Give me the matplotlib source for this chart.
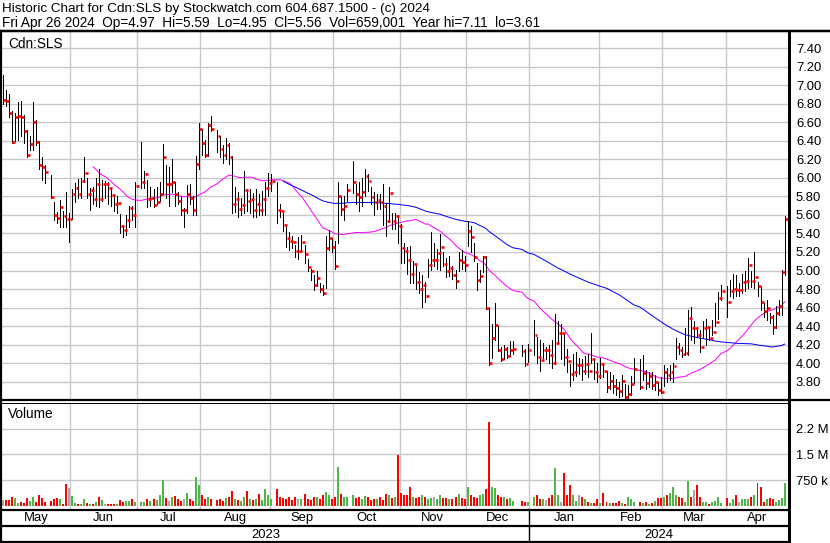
import numpy as np
import pandas as pd
import matplotlib
matplotlib.use("Agg")
import matplotlib.pyplot as plt
from matplotlib.lines import Line2D

# ---------------- data ----------------
ticker = "Cdn:SLS"
header1 = "Historic Chart for Cdn:SLS by Stockwatch.com 604.687.1500 - (c) 2024"
header2 = "Fri Apr 26 2024  Op=4.97  Hi=5.59  Lo=4.95  Cl=5.56  Vol=659,001  Year hi=7.11  lo=3.61"
start_date = "2023-05-01"
end_date = "2024-04-26"
holidays = ["2023-05-22", "2023-07-03", "2023-08-07", "2023-09-04", "2023-10-09",
            "2023-12-25", "2023-12-26", "2024-01-01", "2024-02-19", "2024-03-29"]

close_may = [6.84, 6.83, 6.70, 6.39, 6.66, 6.67, 6.66, 6.51, 6.25, 6.37, 6.60, 6.39, 6.14, 6.12, 6.06, 5.79, 5.60, 5.57, 5.69, 5.59, 5.56, 5.56]
high_may = [7.11, 6.95, 6.90, 6.72, 6.70, 6.82, 6.83, 6.68, 6.52, 6.45, 6.82, 6.62, 6.40, 6.22, 6.14, 6.03, 5.74, 5.63, 5.76, 5.64, 5.85, 5.62]
low_may = [6.80, 6.77, 6.66, 6.38, 6.40, 6.41, 6.45, 6.38, 6.22, 6.30, 6.30, 6.35, 6.10, 5.98, 5.94, 5.78, 5.54, 5.51, 5.47, 5.47, 5.47, 5.31]

close_jun = [5.83, 5.89, 5.82, 5.97, 6.05, 5.83, 5.87, 5.77, 5.93, 5.77, 5.93, 5.93, 5.89, 5.81, 5.72, 5.73, 5.48, 5.44, 5.54, 5.67, 5.60, 5.91]
high_jun = [5.88, 5.94, 5.99, 6.00, 6.22, 6.00, 5.89, 5.90, 6.00, 6.10, 5.98, 5.97, 5.95, 5.88, 5.80, 5.80, 5.61, 5.49, 5.60, 5.70, 5.70, 5.95]
low_jun = [5.56, 5.74, 5.78, 5.78, 5.95, 5.78, 5.65, 5.72, 5.70, 5.69, 5.75, 5.78, 5.72, 5.70, 5.64, 5.62, 5.40, 5.36, 5.38, 5.47, 5.55, 5.47]

close_jul = [5.95, 6.04, 5.77, 5.78, 5.71, 5.74, 5.83, 6.22, 5.93, 5.93, 5.96, 5.83, 5.75, 5.65, 5.65, 5.82, 5.78, 5.65, 6.15, 6.53]
high_jul = [6.39, 6.07, 5.98, 5.90, 5.88, 5.90, 5.95, 6.37, 6.14, 6.12, 6.20, 5.95, 5.85, 5.80, 5.67, 5.92, 5.93, 5.80, 6.23, 6.59]
low_jul = [5.89, 5.89, 5.69, 5.70, 5.68, 5.72, 5.75, 5.83, 5.78, 5.70, 5.85, 5.70, 5.72, 5.60, 5.47, 5.62, 5.72, 5.60, 5.60, 6.10]

close_aug = [6.38, 6.25, 6.57, 6.53, 6.45, 6.31, 6.25, 6.35, 6.22, 5.72, 5.77, 5.66, 5.71, 5.87, 5.75, 5.77, 5.65, 5.72, 5.65, 5.77, 5.89, 5.94]
high_aug = [6.53, 6.41, 6.59, 6.67, 6.52, 6.45, 6.35, 6.43, 6.38, 6.23, 5.90, 5.85, 5.78, 6.07, 5.88, 5.88, 5.84, 5.88, 5.82, 5.86, 5.95, 6.05]
low_aug = [6.25, 6.22, 6.23, 6.50, 6.28, 6.22, 6.16, 6.20, 6.15, 5.62, 5.63, 5.58, 5.60, 5.62, 5.64, 5.62, 5.58, 5.58, 5.60, 5.60, 5.60, 5.80]

close_sep = [5.97, 5.65, 5.64, 5.49, 5.35, 5.32, 5.31, 5.21, 5.21, 5.31, 5.18, 5.04, 4.99, 4.84, 4.92, 4.80, 4.76, 5.24, 5.35, 5.25]
high_sep = [6.04, 5.95, 5.72, 5.62, 5.47, 5.42, 5.37, 5.28, 5.36, 5.38, 5.28, 5.12, 5.02, 4.95, 4.99, 4.86, 4.84, 5.37, 5.44, 5.35]
low_sep = [5.86, 5.51, 5.58, 5.43, 5.25, 5.22, 5.24, 5.15, 5.12, 5.20, 5.08, 5.00, 4.90, 4.79, 4.83, 4.77, 4.74, 4.81, 5.22, 5.20]

close_oct = [5.05, 5.80, 5.66, 5.70, 5.87, 5.95, 5.83, 5.79, 5.85, 6.02, 5.97, 5.79, 5.74, 5.76, 5.74, 5.70, 5.53, 5.84, 5.53, 5.59, 5.48]
high_oct = [5.32, 5.96, 5.80, 5.80, 5.93, 6.18, 5.93, 5.96, 6.00, 6.09, 6.04, 5.90, 5.85, 5.83, 5.83, 5.93, 5.73, 5.90, 5.62, 5.62, 5.60]
low_oct = [5.02, 5.30, 5.60, 5.55, 5.75, 5.84, 5.72, 5.64, 5.70, 5.80, 5.86, 5.72, 5.60, 5.66, 5.66, 5.49, 5.37, 5.52, 5.45, 5.45, 5.30]

close_nov = [5.24, 5.21, 5.11, 4.96, 5.07, 4.88, 4.80, 4.84, 4.72, 5.06, 5.11, 5.11, 5.19, 5.25, 5.07, 5.00, 5.03, 4.95, 4.89, 5.11, 5.09, 5.06]
high_nov = [5.50, 5.30, 5.25, 5.26, 5.10, 5.05, 4.98, 4.95, 4.88, 5.12, 5.41, 5.30, 5.23, 5.39, 5.20, 5.13, 5.16, 5.05, 5.01, 5.20, 5.22, 5.16]
low_nov = [5.08, 5.08, 4.96, 4.87, 4.87, 4.80, 4.76, 4.61, 4.66, 4.93, 5.01, 5.05, 5.02, 5.01, 5.05, 4.93, 4.94, 4.91, 4.81, 5.00, 5.02, 5.00]

close_dec = [5.43, 5.36, 5.15, 4.90, 4.94, 5.15, 4.60, 4.00, 4.27, 4.41, 4.14, 4.04, 4.15, 4.08, 4.14, 4.15, 4.13, 3.99, 4.14]
high_dec = [5.53, 5.48, 5.30, 5.08, 5.01, 5.16, 5.16, 4.60, 4.42, 4.65, 4.40, 4.18, 4.20, 4.18, 4.24, 4.24, 4.20, 4.15, 4.21]
low_dec = [5.26, 5.20, 5.10, 4.79, 4.88, 4.98, 4.58, 3.98, 4.06, 4.25, 4.13, 4.02, 4.05, 4.06, 4.08, 4.10, 4.08, 3.97, 4.01]

close_jan = [4.30, 4.07, 4.03, 4.14, 4.14, 4.09, 4.00, 4.22, 4.33, 4.33, 4.07, 4.02, 3.88, 3.91, 3.98, 3.98, 3.92, 3.99, 3.92, 4.04, 3.91, 3.86]
high_jan = [4.47, 4.28, 4.25, 4.22, 4.18, 4.20, 4.25, 4.53, 4.45, 4.42, 4.33, 4.15, 3.99, 4.10, 4.12, 4.06, 4.05, 4.08, 4.10, 4.33, 4.05, 4.00]
low_jan = [4.09, 4.00, 3.92, 4.06, 4.05, 4.00, 3.95, 3.99, 4.22, 4.05, 3.98, 3.90, 3.75, 3.82, 3.86, 3.88, 3.82, 3.88, 3.85, 4.00, 3.83, 3.80]

close_feb = [3.99, 3.92, 3.74, 3.81, 3.75, 3.73, 3.70, 3.81, 3.64, 3.67, 3.78, 3.94, 3.74, 3.89, 3.79, 3.86, 3.77, 3.80, 3.71, 3.69]
high_feb = [4.06, 4.00, 3.92, 3.90, 3.87, 3.83, 3.80, 3.87, 3.78, 3.76, 3.86, 4.06, 4.05, 4.09, 3.93, 3.90, 3.90, 3.87, 3.80, 3.85]
low_feb = [3.84, 3.85, 3.69, 3.72, 3.68, 3.66, 3.64, 3.65, 3.61, 3.62, 3.66, 3.79, 3.72, 3.82, 3.72, 3.74, 3.72, 3.71, 3.66, 3.68]

close_mar = [3.90, 3.87, 3.91, 3.97, 4.18, 4.14, 4.10, 4.11, 4.49, 4.38, 4.38, 4.30, 4.18, 4.38, 4.39, 4.27, 4.34, 4.44, 4.70, 4.78]
high_mar = [3.98, 3.95, 3.98, 4.00, 4.27, 4.22, 4.18, 4.38, 4.57, 4.61, 4.45, 4.38, 4.36, 4.45, 4.48, 4.38, 4.47, 4.65, 4.77, 4.84]
low_mar = [3.75, 3.80, 3.82, 3.80, 4.05, 4.10, 4.07, 4.09, 4.09, 4.25, 4.22, 4.28, 4.12, 4.27, 4.20, 4.25, 4.30, 4.40, 4.48, 4.68]

close_apr = [4.66, 4.78, 4.80, 4.79, 4.79, 4.88, 4.89, 5.06, 4.89, 4.93, 4.83, 4.66, 4.56, 4.60, 4.50, 4.39, 4.54, 4.62, 4.98, 5.56]
high_apr = [4.83, 4.90, 4.96, 4.95, 4.86, 4.96, 4.99, 5.13, 5.00, 5.20, 4.88, 4.82, 4.65, 4.68, 4.54, 4.52, 4.62, 4.68, 5.01, 5.59]
low_apr = [4.50, 4.72, 4.70, 4.72, 4.73, 4.76, 4.78, 4.81, 4.82, 4.81, 4.72, 4.57, 4.50, 4.47, 4.43, 4.32, 4.38, 4.52, 4.52, 4.95]

# volume in thousands of shares
vol_may = [165, 165, 165, 253, 214, 88, 117, 88, 234, 136, 253, 117, 312, 234, 117, 136, 185, 234, 195, 60, 633, 526]
vol_jun = [282, 90, 60, 60, 195, 90, 50, 60, 100, 253, 165, 40, 60, 60, 40, 40, 165, 117, 136, 136, 195, 100]
vol_jul = [120, 100, 190, 150, 200, 160, 300, 750, 230, 150, 250, 280, 200, 150, 200, 380, 200, 150, 840, 600]
vol_aug = [300, 200, 260, 200, 180, 200, 150, 220, 250, 420, 200, 180, 150, 250, 430, 200, 180, 200, 350, 180, 490, 300]
vol_sep = [200, 490, 250, 220, 200, 260, 180, 240, 200, 200, 340, 200, 180, 250, 250, 200, 300, 400, 300, 200]
vol_oct = [250, 1130, 350, 260, 260, 300, 220, 260, 200, 280, 240, 180, 200, 200, 260, 180, 340, 300, 220, 250, 1480]
vol_nov = [380, 300, 300, 540, 250, 220, 260, 320, 250, 200, 220, 240, 200, 320, 220, 220, 200, 200, 260, 350, 230, 200]
vol_dec = [560, 300, 250, 220, 320, 350, 480, 2440, 560, 520, 320, 260, 240, 200, 220, 150, 130, 110, 120]
vol_jan = [250, 310, 200, 200, 180, 220, 300, 1100, 300, 117, 960, 310, 600, 310, 136, 310, 263, 185, 117, 90, 90, 185]
vol_feb = [90, 380, 117, 90, 90, 70, 136, 90, 50, 263, 185, 117, 117, 90, 117, 50, 90, 150, 234, 234]
vol_mar = [263, 310, 380, 555, 310, 263, 234, 117, 720, 263, 458, 600, 263, 117, 117, 50, 117, 136, 263, 88]
vol_apr = [234, 88, 185, 310, 117, 185, 185, 185, 263, 310, 650, 555, 117, 185, 215, 185, 117, 165, 215, 659]

# ---------------- assemble ----------------
closes = np.array(close_may + close_jun + close_jul + close_aug + close_sep + close_oct +
                  close_nov + close_dec + close_jan + close_feb + close_mar + close_apr)
highs = np.array(high_may + high_jun + high_jul + high_aug + high_sep + high_oct +
                 high_nov + high_dec + high_jan + high_feb + high_mar + high_apr)
lows = np.array(low_may + low_jun + low_jul + low_aug + low_sep + low_oct +
                low_nov + low_dec + low_jan + low_feb + low_mar + low_apr)
vols = np.array(vol_may + vol_jun + vol_jul + vol_aug + vol_sep + vol_oct +
                vol_nov + vol_dec + vol_jan + vol_feb + vol_mar + vol_apr) * 1000.0

weekdays = pd.bdate_range(start_date, end_date)
slots = np.arange(len(weekdays))
is_trading = ~weekdays.isin(pd.to_datetime(holidays))
x = slots[is_trading]
n = min(len(x), len(closes))
x, closes, highs, lows, vols = x[:n], closes[:n], highs[:n], lows[:n], vols[:n]

ma_short = pd.Series(closes).rolling(30).mean().values
ma_long = pd.Series(closes).rolling(90).mean().values

diff = np.diff(closes, prepend=np.nan)
vcolors = np.where(diff > 1e-9, "#4DB848", np.where(diff < -1e-9, "#FF0000", "#A8A8A8"))

# ---------------- figure ----------------
W, H = 830, 543
P = 0.72  # one pixel in points at dpi 100
plt.rcParams["font.family"] = ["Liberation Sans", "DejaVu Sans"]
fig = plt.figure(figsize=(W / 100, H / 100), dpi=100)
fig.patch.set_facecolor("white")

def fx(px):
    return px / W

def fy(py):
    return 1 - py / H

PX = 3.02
XL = (-0.17, (789 - 2.5) / PX)
LEFT, RIGHT = 2, 789

ax = fig.add_axes([fx(LEFT), fy(400), fx(RIGHT) - fx(LEFT), fy(32) - fy(400)])
axv = fig.add_axes([fx(LEFT), fy(509), fx(RIGHT) - fx(LEFT), fy(403) - fy(509)])

months = pd.period_range(weekdays[0], weekdays[-1], freq="M")
bounds = []
for m in months:
    first = np.where(weekdays.to_period("M") == m)[0][0]
    bounds.append(first - 0.5)
bounds.append(XL[1])
bounds[0] = XL[0]

grid_c = "#C8C8C8"
for a in (ax, axv):
    a.set_xlim(*XL)
    for b in bounds[1:-1]:
        a.axvline(b, color=grid_c, lw=1.4 * P, zorder=0)
    for s in a.spines.values():
        s.set_visible(False)
    a.set_xticks([])
    a.yaxis.tick_right()
    a.tick_params(axis="y", length=0, pad=5, labelsize=9.4)
    a.set_facecolor("white")

# price panel
yt = np.round(np.arange(3.6, 7.41, 0.2), 2)
ax.set_ylim(3.603, 7.573)
for v in yt:
    ax.axhline(v, color=grid_c, lw=1.4 * P, zorder=0)
ax.set_yticks(yt[1:])
ax.set_yticklabels([f"{v:.2f}" for v in yt[1:]])

ax.vlines(x, lows, highs, color="black", lw=1.0 * P, antialiased=False, zorder=3)
ax.hlines(closes, x + 0.2, x + 1.15, color="#FF0000", lw=2.6 * P, antialiased=True,
          capstyle="butt", zorder=4)
ax.plot(x, ma_short, color="#FF00FF", lw=1.0 * P, zorder=2)
ax.plot(x, ma_long, color="#0000FF", lw=1.0 * P, zorder=2)
ax.text(0.008, 0.968, ticker, transform=ax.transAxes, fontsize=9.8, va="center", ha="left")

# volume panel
axv.set_ylim(-0.096e6, 2.997e6)
vt = [750e3, 1.5e6, 2.25e6]
for v in vt:
    axv.axhline(v, color=grid_c, lw=1.4 * P, zorder=0)
axv.set_yticks(vt)
axv.set_yticklabels(["750 k", "1.5 M", "2.2 M"])
axv.bar(x, vols, width=0.66, color=vcolors, align="center", zorder=3, linewidth=0)
axv.text(0.008, 0.9, "Volume", transform=axv.transAxes, fontsize=9.8, va="center", ha="left")

# header
fig.text(fx(2), fy(9), header1, fontsize=9.7, va="center", ha="left")
fig.text(fx(2), fy(23.5), header2, fontsize=9.8, va="center", ha="left")

# month / year axis
axm = fig.add_axes([fx(LEFT), fy(542), fx(RIGHT) - fx(LEFT), fy(510) - fy(542)])
axm.set_xlim(*XL)
axm.set_ylim(0, 32)
axm.axis("off")
names = [m.strftime("%b") for m in months]
for i, nm in enumerate(names):
    axm.text((bounds[i] + bounds[i + 1]) / 2, 24, nm, ha="center", va="center", fontsize=9.4)
years = sorted(set(m.year for m in months))
for yv in years:
    idx = [i for i, m in enumerate(months) if m.year == yv]
    axm.text((bounds[idx[0]] + bounds[idx[-1] + 1]) / 2, 7.5, str(yv), ha="center", va="center", fontsize=9.4)
jan_idx = [i for i, m in enumerate(months) if m.month == 1][0]
axm.plot([bounds[jan_idx]] * 2, [0, 32], color="black", lw=1.4 * P)

def hline(py, x0, x1, lw):
    fig.add_artist(Line2D([fx(x0), fx(x1)], [fy(py), fy(py)], color="black", lw=lw, transform=fig.transFigure))

def vline(px, y0, y1, lw):
    fig.add_artist(Line2D([fx(px), fx(px)], [fy(y0), fy(y1)], color="black", lw=lw, transform=fig.transFigure))

hline(31, 0, 830, 2.5 * P)
hline(400.3, 0, 830, 2.2 * P)
hline(402.8, 0, 789, 1.0 * P)
hline(510, 0, 789, 2.2 * P)
hline(526, 0, 789, 2.2 * P)
hline(542, 0, 789, 2.2 * P)
vline(1.0, 31, 543, 2.2 * P)
vline(789, 31, 543, 3.0 * P)

fig.savefig("out.png", dpi=100, facecolor="white")
